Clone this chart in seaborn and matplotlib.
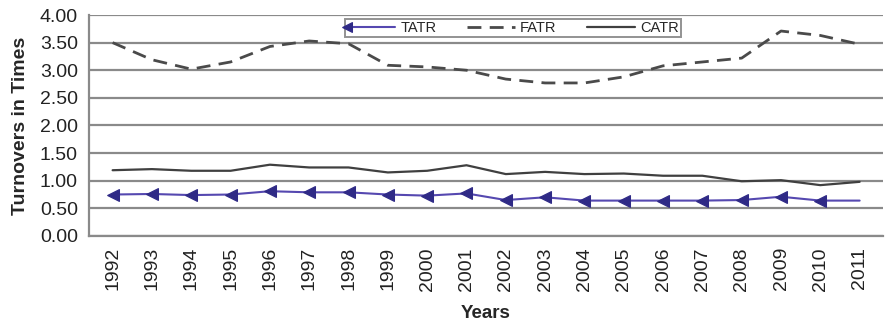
import matplotlib
matplotlib.use("Agg")
import matplotlib.pyplot as plt
import seaborn as sns
import pandas as pd
from matplotlib.ticker import FixedLocator
from matplotlib.legend_handler import HandlerLine2D

years = list(range(1992, 2012))
tatr = [0.75, 0.76, 0.74, 0.75, 0.81, 0.79, 0.79, 0.75, 0.73, 0.77,
        0.65, 0.70, 0.64, 0.64, 0.64, 0.64, 0.65, 0.71, 0.64, 0.64]
fatr = [3.50, 3.19, 3.02, 3.15, 3.43, 3.53, 3.48, 3.09, 3.06, 3.00,
        2.84, 2.77, 2.77, 2.88, 3.08, 3.15, 3.22, 3.71, 3.63, 3.47]
catr = [1.19, 1.21, 1.18, 1.18, 1.29, 1.24, 1.24, 1.15, 1.18, 1.28,
        1.12, 1.16, 1.12, 1.13, 1.09, 1.09, 0.99, 1.01, 0.92, 0.98]
yticks = [0.0, 0.5, 1.0, 1.5, 2.0, 2.5, 3.0, 3.5, 4.0]

df = pd.DataFrame({"Year": years, "TATR": tatr, "FATR": fatr, "CATR": catr})

sns.set_style("white")
plt.rcParams['font.family'] = ['Liberation Sans', 'DejaVu Sans']


class LeftMarkerHandler(HandlerLine2D):
    def update_prop(self, legend_handle, orig_handle, legend):
        super().update_prop(legend_handle, orig_handle, legend)
        legend_handle.set_markevery([0])
        legend_handle.set_markersize(7)


fig = plt.figure(figsize=(8.85, 3.3), dpi=100)
ax = fig.add_axes([0.1006, 0.285, 0.8974, 0.6695])

grid_c = "#8a8a8a"
for y in yticks:
    ax.axhline(y, color=grid_c, lw=1.6, zorder=0)

sns.lineplot(data=df, x="Year", y="TATR", ax=ax, color="#5548b0", lw=1.5,
             marker="<", markersize=9, markerfacecolor="#2f2a86",
             markeredgecolor="#2f2a86", markevery=list(range(len(years) - 1)),
             label="TATR", zorder=3)
sns.lineplot(data=df, x="Year", y="FATR", ax=ax, color="#4a4a4a", lw=2.0,
             dashes=False, label="FATR", zorder=3)
ax.lines[-1].set_dashes([5, 3])
sns.lineplot(data=df, x="Year", y="CATR", ax=ax, color="#404040", lw=1.6,
             label="CATR", zorder=3)

ax.set_xlim(years[0] - 0.6, years[-1] + 0.6)
ax.set_ylim(0, 4.0)
ax.set_yticks(yticks)
ax.set_yticklabels([f"{v:.2f}" for v in yticks], fontsize=14)
ax.set_xticks(years)
ax.set_xticklabels([str(y) for y in years], rotation=90, fontsize=14)
ax.xaxis.set_minor_locator(FixedLocator([y - 0.5 for y in years] + [years[-1] + 0.5]))
ax.tick_params(axis="x", which="major", length=0, pad=8)
ax.tick_params(axis="x", which="minor", length=5, color=grid_c, width=1.4, direction="out")
ax.tick_params(axis="y", length=5, color=grid_c, width=1.4, direction="out", pad=3)
ax.tick_params(colors="#222222")

for s in ["top", "right"]:
    ax.spines[s].set_visible(False)
for s in ["left", "bottom"]:
    ax.spines[s].set_color(grid_c)
    ax.spines[s].set_linewidth(1.6)

ax.set_ylabel("Turnovers in Times", fontsize=14, fontweight="bold", labelpad=8)
ax.set_xlabel("Years", fontsize=13.5, fontweight="bold", labelpad=10)

handles, labels = ax.get_legend_handles_labels()
leg = ax.legend(handles, labels, loc="upper center", bbox_to_anchor=(0.534, 0.982), ncol=3,
                frameon=True, fancybox=False, fontsize=10.5, handlelength=3.3,
                columnspacing=2.1, borderpad=0.15, handletextpad=0.35,
                borderaxespad=0.0,
                handler_map={handles[0]: LeftMarkerHandler()})
leg.get_frame().set_edgecolor("#777777")
leg.get_frame().set_linewidth(1.4)

fig.savefig("out.png", dpi=100)
